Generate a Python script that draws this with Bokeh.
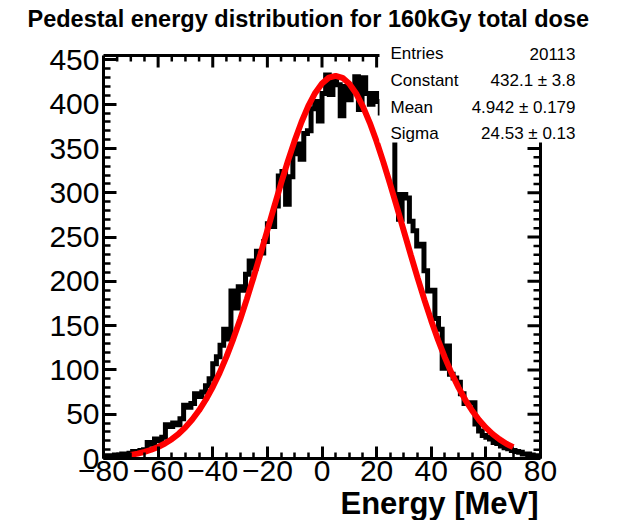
from bokeh.plotting import figure
from bokeh.models import Range1d, LinearAxis, FixedTicker, Label, BoxAnnotation, Title
from bokeh.embed import file_html
from bokeh.resources import INLINE

# ---------------- data ----------------
x_min, x_max, n_bins = -80.0, 80.0, 120
counts = [
    2, 3, 1, 4, 3, 5, 4, 6, 8, 7, 9, 10,
    18, 16, 22, 20, 24, 38, 36, 40, 38, 45,
    60, 58, 62, 73, 70, 75, 82, 90, 107, 115,
    128, 146, 135, 189, 170, 194, 190, 208, 223, 215,
    234, 232, 245, 265, 262, 285, 319, 324, 287, 318,
    344, 355, 338, 367, 370, 395, 403, 381, 412, 433,
    411, 426, 422, 387, 420, 405, 417, 431, 394, 430,
    412, 400, 412, 403, 390, 375, 368, 362, 298, 270,
    298, 294, 268, 257, 240, 242, 212, 189, 190, 158,
    146, 102, 127, 95, 91, 86, 73, 62, 63, 63,
    39, 31, 26, 24, 22, 18, 17, 14, 12, 11,
    9, 8, 7, 5, 5, 4, 3, 2,
]

fit_energy = [-70, -67.5, -65, -62.5, -60, -57.5, -55, -52.5, -50, -47.5,
              -45, -42.5, -40, -37.5, -35, -32.5, -30, -27.5, -25, -22.5,
              -20, -17.5, -15, -12.5, -10, -7.5, -5, -2.5, 0, 2.5,
              5, 7.5, 10, 12.5, 15, 17.5, 20, 22.5, 25, 27.5,
              30, 32.5, 35, 37.5, 40, 42.5, 45, 47.5, 50, 52.5,
              55, 57.5, 60, 62.5, 65, 67.5, 70]
fit_values = [4.1, 5.5, 7.4, 9.9, 13.0, 16.9, 21.8, 27.9, 35.2, 44.0,
              54.4, 66.6, 80.7, 96.7, 114.8, 134.8, 156.7, 180.2, 205.2, 231.1,
              257.7, 284.3, 310.5, 335.6, 358.9, 379.9, 398.1, 412.7, 423.4, 430.0,
              432.1, 429.8, 423.0, 412.1, 397.3, 379.0, 357.9, 334.4, 309.3, 283.1,
              256.4, 229.9, 203.9, 179.1, 155.6, 133.8, 113.9, 95.9, 80.0, 66.0,
              53.9, 43.5, 34.8, 27.5, 21.6, 16.7, 12.8]

x_ticks = [-80, -60, -40, -20, 0, 20, 40, 60, 80]
x_tick_labels = ["\u221280", "\u221260", "\u221240", "\u221220", "0", "20", "40", "60", "80"]
y_ticks = [0, 50, 100, 150, 200, 250, 300, 350, 400, 450]
y_tick_labels = ["0", "50", "100", "150", "200", "250", "300", "350", "400", "450"]

title_text = "Pedestal energy distribution for 160kGy total dose"
x_title = "Energy [MeV]"
stat_names = ["Entries", "Constant", "Mean", "Sigma"]
stat_values = ["20113", "432.1 \u00b1 3.8", "4.942 \u00b1 0.179", "24.53 \u00b1 0.13"]

# ---------------- geometry ----------------
FONT = "Liberation Sans"
y_top = 455.0                       # top of the histogram frame
PX_X = 437.0 / (x_max - x_min)      # pixels per MeV
PX_Y = 403.0 / y_top                # pixels per count
LEFT, TOP, BOTTOM_PX, W, H = 103, 31, 458, 620, 520
frame_w = W - LEFT
frame_h = BOTTOM_PX - TOP


def dx(px):   # page x -> data x
    return x_min + (px - LEFT) / PX_X


def dy(py):   # page y -> data y
    return (BOTTOM_PX - py) / PX_Y


p = figure(width=W, height=H, output_backend="svg", toolbar_location=None,
           x_range=Range1d(x_min, x_min + frame_w / PX_X),
           y_range=Range1d(0, frame_h / PX_Y),
           min_border_left=LEFT, min_border_right=0, min_border_top=TOP,
           min_border_bottom=H - BOTTOM_PX,
           x_axis_type=None, y_axis_type=None)
p.xgrid.visible = False
p.ygrid.visible = False
p.outline_line_color = None
p.background_fill_color = "white"
p.border_fill_color = "white"

p.title = Title(text=title_text, align="left", offset=27 - LEFT, text_font=FONT,
                text_font_size="23.5px", text_font_style="bold", text_color="black",
                standoff=0)

x_minor = [v for v in range(-80, 81, 5) if v % 20 != 0]
y_minor = [v for v in range(0, int(y_top) + 1, 10) if v % 50 != 0]


def make_axis(ticks, minor, labels, tin, tmin, bounds):
    ax = LinearAxis(ticker=FixedTicker(ticks=ticks, minor_ticks=minor), bounds=bounds)
    ax.axis_line_width = 3
    ax.axis_line_color = "black"
    ax.major_tick_in = tin
    ax.major_tick_out = 0
    ax.minor_tick_in = tmin
    ax.minor_tick_out = 0
    ax.major_tick_line_width = 3
    ax.minor_tick_line_width = 2.5
    ax.major_label_overrides = {t: l for t, l in zip(ticks, labels)}
    ax.major_label_text_font = FONT
    ax.major_label_text_color = "black"
    ax.major_label_text_font_size = "30px"
    return ax


xb = make_axis(x_ticks, x_minor, x_tick_labels, 12, 6, (x_min, x_max))
xb.major_label_standoff = 2
p.add_layout(xb, "below")
yl = make_axis(y_ticks, y_minor, y_tick_labels, 13, 7, (0, y_top))
yl.major_label_standoff = 4
p.add_layout(yl, "left")

p.add_layout(Title(text=x_title, align="left", offset=237, text_font=FONT,
                   text_font_size="31px", text_font_style="bold", text_color="black",
                   standoff=0), "below")

# histogram outline
width = (x_max - x_min) / n_bins
edges = [x_min + i * width for i in range(n_bins + 1)]
p.step(edges, counts + [counts[-1]], mode="after", line_width=5, line_color="black",
       line_join="miter")

# fit curve
p.line(fit_energy, fit_values, line_width=6, line_color="#ff0000")

# top and right frame edges with inward ticks (ROOT style)
p.segment(x0=[x_min, x_max], y0=[y_top, 0], x1=[x_max, x_max], y1=[y_top, y_top],
          line_color="black", line_width=3, line_cap="square")
p.segment(x0=x_ticks, y0=[y_top] * len(x_ticks), x1=x_ticks,
          y1=[y_top - 12 / PX_Y] * len(x_ticks), line_color="black", line_width=3)
p.segment(x0=x_minor, y0=[y_top] * len(x_minor), x1=x_minor,
          y1=[y_top - 6 / PX_Y] * len(x_minor), line_color="black", line_width=2.5)
p.segment(x0=[x_max] * len(y_ticks), y0=y_ticks, x1=[x_max - 13 / PX_X] * len(y_ticks),
          y1=y_ticks, line_color="black", line_width=3)
p.segment(x0=[x_max] * len(y_minor), y0=y_minor, x1=[x_max - 7 / PX_X] * len(y_minor),
          y1=y_minor, line_color="black", line_width=2.5)

# stats box
p.add_layout(BoxAnnotation(left=dx(379), right=dx(600), bottom=dy(142), top=dy(35),
                           fill_color="white", fill_alpha=1.0, line_color=None))
for name, val, py in zip(stat_names, stat_values, [53, 80, 107, 133]):
    p.add_layout(Label(x=dx(390), y=dy(py), text=name, text_font=FONT,
                       text_font_size="17px", text_align="left",
                       text_baseline="alphabetic", text_color="black"))
    p.add_layout(Label(x=dx(575), y=dy(py), text=val, text_font=FONT,
                       text_font_size="17px", text_align="right",
                       text_baseline="alphabetic", text_color="black"))

open("out.html", "w").write(file_html(p, INLINE))
